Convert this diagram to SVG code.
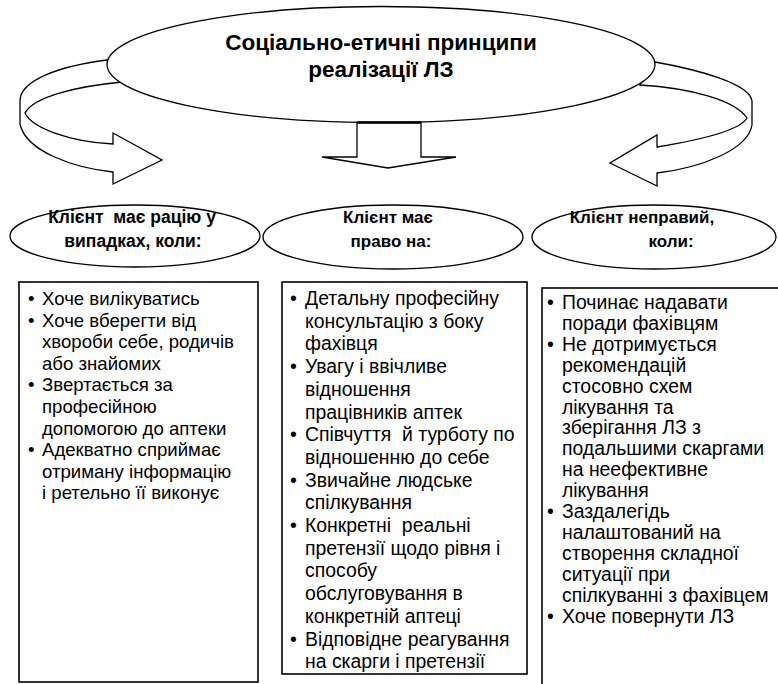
<svg xmlns="http://www.w3.org/2000/svg" width="778" height="684" viewBox="0 0 778 684">
<style>
.sh{fill:#fff;stroke:#000;stroke-width:1.3;stroke-linejoin:miter}
.bx{fill:#fff;stroke:#000;stroke-width:1.6}
.tt{font-family:"Liberation Sans",Arial,sans-serif;font-weight:bold;fill:#000;text-anchor:middle}
.bd{font-family:"Liberation Sans",Arial,sans-serif;fill:#000}
</style>
<rect width="778" height="684" fill="#fff"/>
<g id="connectors">
<path class="sh" d="M107,60 C60,66 20,80 20,101 L20,124 C26,152 75,168 113,172 L113,184 L162,160 L113,133 L113,144 C70,142 32,128 25,113 C34,96 80,86 122,82 Z"/>
<path class="sh" d="M655,62 C700,70 750,84 752,101 L752,125 C748,150 700,168 657,173 L657,186 L610,163 L657,135 L657,147 C700,140 740,130 747,118 C735,100 690,88 640,85 Z"/>
</g>
<g id="title">
<ellipse class="sh" cx="381" cy="64.5" rx="274" ry="58"/>
<text class="tt" font-size="22.5" x="381" y="50">Соціально-етичні принципи</text>
<text class="tt" font-size="22.5" x="381" y="77">реалізації ЛЗ</text>
</g>
<g id="arrow-down">
<path class="sh" d="M357,122.5 L357,157 L322,157 L388,168 L456,157 L421,157 L421,122.5 Z"/>
<line x1="357" y1="122.5" x2="421" y2="122.5" stroke="#000" stroke-width="2.5"/>
</g>
<g id="head-left">
<ellipse class="sh" cx="135" cy="236" rx="125" ry="31"/>
<text class="tt" font-size="17.5" x="132" y="223" xml:space="preserve">Клієнт  має рацію у</text>
<text class="tt" font-size="17.5" x="133" y="247">випадках, коли:</text>
</g>
<g id="head-middle">
<ellipse class="sh" cx="393" cy="237" rx="130" ry="32"/>
<text class="tt" font-size="17" x="388" y="223">Клієнт має</text>
<text class="tt" font-size="17" x="391" y="247">право на:</text>
</g>
<g id="head-right">
<ellipse class="sh" cx="654" cy="237" rx="122" ry="32"/>
<text class="tt" font-size="17" x="642" y="223">Клієнт неправий,</text>
<text class="tt" font-size="17" x="671" y="247">коли:</text>
</g>
<g id="box-left">
<rect class="bx" x="19" y="282" width="239" height="400"/>
<text class="bd" font-size="18.6">
<tspan x="28" y="305">•</tspan><tspan x="42" y="305">Хоче вилікуватись</tspan>
<tspan x="28" y="326.6">•</tspan><tspan x="42" y="326.6">Хоче вберегти від</tspan>
<tspan x="42" y="348.2">хвороби себе, родичів</tspan>
<tspan x="42" y="369.8">або знайомих</tspan>
<tspan x="28" y="391.4">•</tspan><tspan x="42" y="391.4">Звертається за</tspan>
<tspan x="42" y="413">професійною</tspan>
<tspan x="42" y="434.6">допомогою до аптеки</tspan>
<tspan x="28" y="456.2">•</tspan><tspan x="42" y="456.2">Адекватно сприймає</tspan>
<tspan x="42" y="477.8">отриману інформацію</tspan>
<tspan x="42" y="499.4">і ретельно її виконує</tspan>
</text>
</g>
<g id="box-middle">
<rect class="bx" x="282" y="282" width="245" height="392"/>
<text class="bd" font-size="19.4" xml:space="preserve">
<tspan x="290" y="305">•</tspan><tspan x="305" y="305">Детальну професійну</tspan>
<tspan x="305" y="327.7">консультацію з боку</tspan>
<tspan x="305" y="350.4">фахівця</tspan>
<tspan x="290" y="373.1">•</tspan><tspan x="305" y="373.1">Увагу і ввічливе</tspan>
<tspan x="305" y="395.8">відношення</tspan>
<tspan x="305" y="418.5">працівників аптек</tspan>
<tspan x="290" y="441.2">•</tspan><tspan x="305" y="441.2">Співчуття  й турботу по</tspan>
<tspan x="305" y="463.9">відношенню до себе</tspan>
<tspan x="290" y="486.6">•</tspan><tspan x="305" y="486.6">Звичайне людське</tspan>
<tspan x="305" y="509.3">спілкування</tspan>
<tspan x="290" y="532">•</tspan><tspan x="305" y="532">Конкретні  реальні</tspan>
<tspan x="305" y="554.7">претензії щодо рівня і</tspan>
<tspan x="305" y="577.4">способу</tspan>
<tspan x="305" y="600.1">обслуговування в</tspan>
<tspan x="305" y="622.8">конкретній аптеці</tspan>
<tspan x="290" y="645.5">•</tspan><tspan x="305" y="645.5">Відповідне реагування</tspan>
<tspan x="305" y="668.2">на скарги і претензії</tspan>
</text>
</g>
<g id="box-right">
<rect class="bx" x="542" y="288" width="240" height="400"/>
<text class="bd" font-size="19.4">
<tspan x="547" y="309">•</tspan><tspan x="562" y="309">Починає надавати</tspan>
<tspan x="562" y="329.9">поради фахівцям</tspan>
<tspan x="547" y="350.8">•</tspan><tspan x="562" y="350.8">Не дотримується</tspan>
<tspan x="562" y="371.7">рекомендацій</tspan>
<tspan x="562" y="392.6">стосовно схем</tspan>
<tspan x="562" y="413.5">лікування та</tspan>
<tspan x="562" y="434.4">зберігання ЛЗ з</tspan>
<tspan x="562" y="455.3">подальшими скаргами</tspan>
<tspan x="562" y="476.2">на неефективне</tspan>
<tspan x="562" y="497.1">лікування</tspan>
<tspan x="547" y="518">•</tspan><tspan x="562" y="518">Заздалегідь</tspan>
<tspan x="562" y="538.9">налаштований на</tspan>
<tspan x="562" y="559.8">створення складної</tspan>
<tspan x="562" y="580.7">ситуації при</tspan>
<tspan x="562" y="601.6">спілкуванні з фахівцем</tspan>
<tspan x="547" y="622.5">•</tspan><tspan x="562" y="622.5">Хоче повернути ЛЗ</tspan>
</text>
</g>
</svg>
